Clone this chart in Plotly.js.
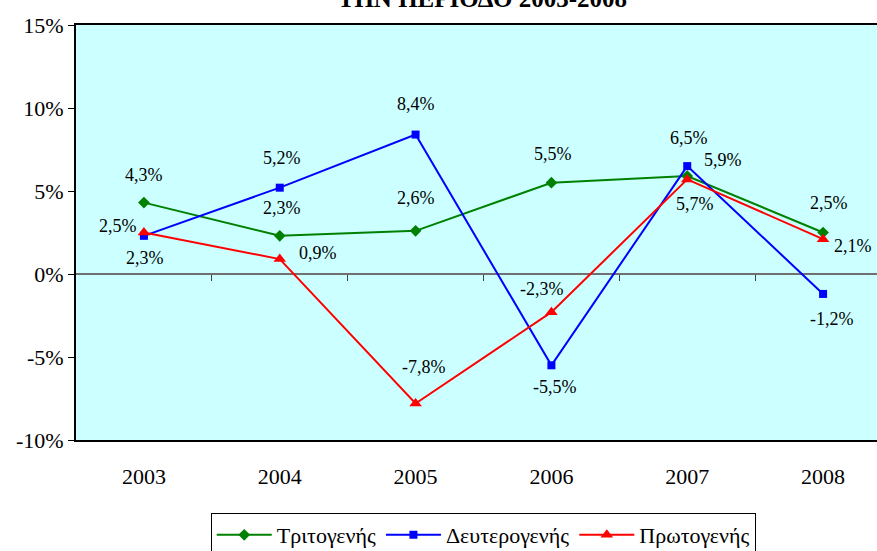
<!DOCTYPE html>
<html>
<head>
<meta charset="utf-8">
<script src="https://cdn.plot.ly/plotly-3.0.1.min.js"></script>
<style>html,body{margin:0;padding:0;background:#fff;}#chart{width:877px;height:551px;}</style>
</head>
<body>
<div id="chart"></div>
<script>
const years = ['2003', '2004', '2005', '2006', '2007', '2008'];
const tritogenis = [4.3, 2.3, 2.6, 5.5, 5.9, 2.5];
const defterogenis = [2.3, 5.2, 8.4, -5.5, 6.5, -1.2];
const protogenis = [2.5, 0.9, -7.8, -2.3, 5.7, 2.1];
const seriesNames = ['Τριτογενής', 'Δευτερογενής', 'Πρωτογενής'];
const yTickVals = [-10, -5, 0, 5, 10, 15];
const yTickText = ['-10%', '-5%', '0%', '5%', '10%', '15%'];
const titleText = 'ΤΗΝ ΠΕΡΙΟΔΟ 2003-2008';

// label offsets (px) for each data label: [dx, dy]
const labelOffsets = [
  [[0,-28],[2,-28],[0,-33],[2,-29],[36,-16],[6,-30]],
  [[1,22],[2,-30],[0,-31],[4,22],[2,-28],[9,25]],
  [[-26,-7],[38,-6],[8,-36],[-9,-23],[8,25],[30,7]]
];

const FONT = '"Liberation Serif", "Times New Roman", serif';
const seriesValues = [tritogenis, defterogenis, protogenis];
const colors = ['#008000', '#0000FF', '#FF0000'];
const symbols = ['diamond', 'square', 'triangle-up'];
const sizes = [9, 8, 11];

const traces = seriesValues.map((vals, i) => ({
  type: 'scatter', mode: 'lines+markers', name: seriesNames[i],
  x: years, y: vals,
  line: {color: colors[i], width: 2},
  marker: {color: colors[i], symbol: symbols[i], size: sizes[i]},
  hoverinfo: 'skip'
}));
// invisible helper so the tick axis on the zero line is drawn
traces.push({type: 'scatter', mode: 'markers', x: [0], y: [0], xaxis: 'x2', yaxis: 'y',
  marker: {opacity: 0}, showlegend: false, hoverinfo: 'skip'});

const fmt = v => v.toFixed(1).replace('.', ',') + '%';
const annotations = [];
seriesValues.forEach((vals, i) => {
  vals.forEach((v, j) => {
    annotations.push({
      xref: 'x', yref: 'y', x: j, y: v, text: fmt(v), showarrow: false,
      xshift: labelOffsets[i][j][0], yshift: -labelOffsets[i][j][1],
      font: {family: FONT, size: 18, color: '#000'}
    });
  });
});

const xr = [-0.5, 5.397];
const layout = {
  width: 877, height: 551,
  margin: {l: 76, r: 0, t: 25, b: 111},
  paper_bgcolor: '#ffffff', plot_bgcolor: '#CCFFFF',
  font: {family: FONT, color: '#000'},
  title: {text: '<b>' + titleText + '</b>', font: {family: FONT, size: 25, color: '#000'},
    xref: 'container', yref: 'container', x: 0.55, xanchor: 'center', y: 0.988, yanchor: 'bottom'},
  xaxis: {type: 'category', range: xr, showline: true, linecolor: '#000', linewidth: 2, mirror: true,
    ticks: 'outside', ticklen: 16, tickcolor: 'rgba(0,0,0,0)', showgrid: false, zeroline: false,
    tickfont: {family: FONT, size: 22, color: '#000'}},
  xaxis2: {type: 'linear', overlaying: 'x', anchor: 'free', position: 0.4, range: xr,
    tickvals: [0.5, 1.5, 2.5, 3.5, 4.5], ticks: 'outside', ticklen: 6, tickwidth: 1, tickcolor: '#404040',
    showticklabels: false, showline: false, showgrid: false, zeroline: false},
  yaxis: {range: [-10, 15], tickvals: yTickVals, ticktext: yTickText, showline: true, linecolor: '#000',
    linewidth: 2, ticks: 'outside', ticklen: 6, tickwidth: 1, tickcolor: '#000', showgrid: false,
    zeroline: true, zerolinecolor: '#707070', zerolinewidth: 1.5,
    tickfont: {family: FONT, size: 22, color: '#000'}},
  legend: {orientation: 'h', xref: 'container', yref: 'container', x: 0.551, xanchor: 'center',
    y: 0.069, yanchor: 'top', bordercolor: '#000', borderwidth: 1, bgcolor: '#fff',
    itemwidth: 55, font: {family: FONT, size: 22, color: '#000'}},
  annotations: annotations,
  showlegend: true
};

Plotly.newPlot('chart', traces, layout, {staticPlot: true, displayModeBar: false});
</script>
</body>
</html>
